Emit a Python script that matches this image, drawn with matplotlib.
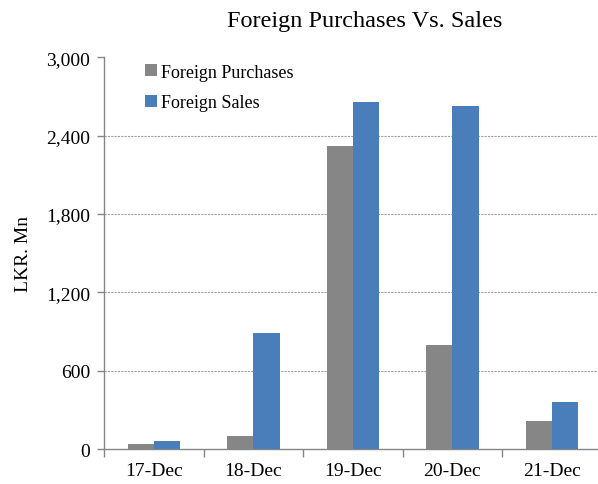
import matplotlib
matplotlib.use("Agg")
import matplotlib.pyplot as plt
import numpy as np
from matplotlib.ticker import FuncFormatter, FixedLocator

categories = ["17-Dec", "18-Dec", "19-Dec", "20-Dec", "21-Dec"]
purchases = [36, 102, 2318, 796, 217]
sales = [59, 888, 2655, 2624, 360]
yticks = [0, 600, 1200, 1800, 2400, 3000]

plt.rcParams['font.family'] = ['Liberation Serif', 'DejaVu Serif']

fig = plt.figure(figsize=(5.98, 4.85), dpi=100)
ax = fig.add_axes([0.174, 0.072, 0.832, 0.808])

x = np.arange(len(categories))
w = 0.264
gray = "#868686"
blue = "#4a7ebb"
ax.bar(x - w/2, purchases, w, color=gray, label="Foreign Purchases", zorder=3)
ax.bar(x + w/2, sales, w, color=blue, label="Foreign Sales", zorder=3)

ax.set_xlim(-0.5, len(categories) - 0.5)
ax.set_ylim(0, 3000)
ax.set_yticks(yticks)
ax.yaxis.set_major_formatter(FuncFormatter(lambda v, p: f"{int(v):,}"))
ax.yaxis.grid(True, linestyle=(0, (2, 1)), color="#a0a0a0", linewidth=0.8, zorder=0)
gl = ax.get_ygridlines()
gl[0].set_visible(False)
gl[-1].set_visible(False)

ax.set_xticks(x)
ax.set_xticklabels(categories)
ax.tick_params(axis="x", which="major", length=0, pad=9, labelsize=14)
ax.xaxis.set_minor_locator(FixedLocator(np.arange(-0.5, len(categories), 1.0)))
ax.tick_params(axis="x", which="minor", length=6, color="#868686", width=1)
ax.tick_params(axis="y", length=5, color="#868686", width=1, labelsize=14, pad=5)

for s in ["top", "right"]:
    ax.spines[s].set_visible(False)
for s in ["left", "bottom"]:
    ax.spines[s].set_color("#868686")
    ax.spines[s].set_linewidth(1)

ax.set_ylabel("LKR. Mn", fontsize=14, labelpad=10)
fig.text(0.61, 0.955, "Foreign Purchases Vs. Sales", ha="center", va="center", fontsize=17.5)

leg = ax.legend(loc="upper left", bbox_to_anchor=(0.05, 1.025), frameon=False,
                fontsize=13, handlelength=0.65, handleheight=0.65, handletextpad=0.25,
                labelspacing=0.75)

fig.savefig("out.png", dpi=100)
